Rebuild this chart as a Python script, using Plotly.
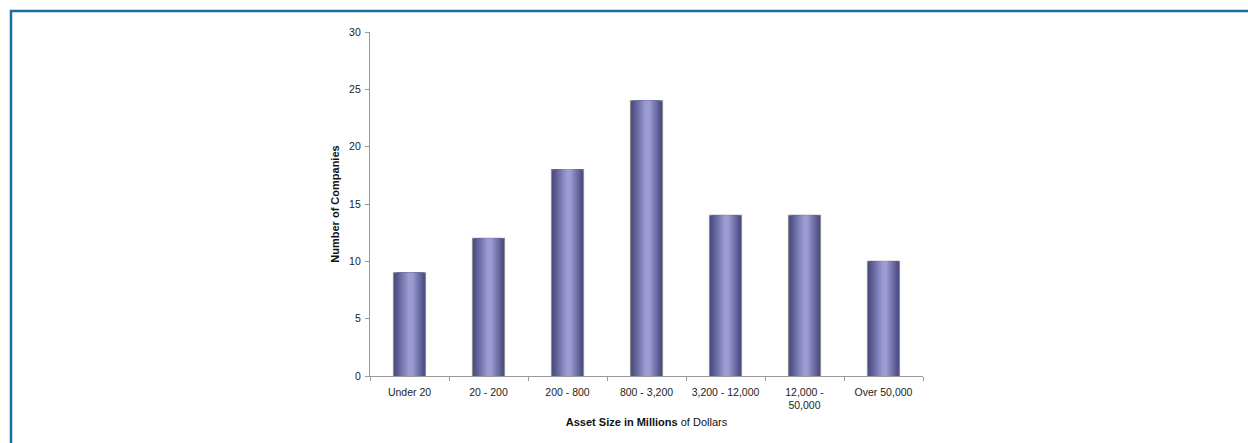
import plotly.graph_objects as go

# Distribution of companies by asset size (millions of dollars)
categories = ["Under 20", "20 - 200", "200 - 800", "800 - 3,200",
              "3,200 - 12,000", "12,000 -<br>50,000", "Over 50,000"]
companies = [9, 12, 18, 24, 14, 14, 10]
y_ticks = [0, 5, 10, 15, 20, 25, 30]

W, H = 1248, 443
L, R, T, B = 370, 325, 32, 67
plot_w = W - L - R
plot_h = H - T - B

fig = go.Figure()

# Cylinder-like shading: stacked bars narrowing toward the centre, lighter each step
dark = (72, 72, 130)
light = (156, 156, 210)
full_w = 0.405
steps = 12
for i in range(steps):
    t = i / (steps - 1)
    c = tuple(round(d + (l - d) * t) for d, l in zip(dark, light))
    w = full_w * (1 - 0.85 * t)
    fig.add_trace(go.Bar(
        x=categories, y=companies, width=w,
        marker=dict(color="rgb(%d,%d,%d)" % c,
                    line=dict(color="#8c8c8c", width=1.2) if i == 0 else dict(width=0)),
        offset=-w / 2 + 0.012 * t,
        showlegend=False, hoverinfo="x+y" if i == 0 else "skip",
    ))

tick_font = dict(family="Liberation Sans, Arial, sans-serif", size=10.5, color="#222")
title_font = dict(family="Liberation Sans, Arial, sans-serif", size=11, color="#111")

fig.update_layout(
    width=W, height=H,
    margin=dict(l=L, r=R, t=T, b=B),
    paper_bgcolor="white", plot_bgcolor="white",
    barmode="overlay",
    font=dict(family="Liberation Sans, Arial, sans-serif", size=10.5, color="#222"),
    xaxis=dict(
        showline=True, linecolor="#999", linewidth=1.2,
        ticks="outside", ticklen=4, tickcolor="#999", tickson="boundaries",
        ticklabelstandoff=6,
        showgrid=False, tickfont=tick_font,
        title=dict(text="<b>Asset Size in Millions</b> of Dollars",
                   font=title_font, standoff=7),
    ),
    yaxis=dict(
        range=[0, 30], tickvals=y_ticks,
        showline=True, linecolor="#999", linewidth=1.2,
        ticks="outside", ticklen=4, tickcolor="#999",
        ticklabelstandoff=2,
        showgrid=False, zeroline=False, tickfont=tick_font,
        title=dict(text="<b>Number of Companies</b>",
                   font=title_font, standoff=7),
    ),
)

# Frame lines along the top and left edges of the page
def px_x(p):
    return (p - L) / plot_w

def px_y(p):
    return (H - B - p) / plot_h

frame = "#1a6ea0"
fig.add_shape(type="line", xref="paper", yref="paper",
              x0=px_x(10), x1=px_x(W + 2), y0=px_y(11), y1=px_y(11),
              line=dict(color=frame, width=2.5))
fig.add_shape(type="line", xref="paper", yref="paper",
              x0=px_x(11), x1=px_x(11), y0=px_y(10), y1=px_y(H + 2),
              line=dict(color=frame, width=2.5))

fig.write_html("out.html")
